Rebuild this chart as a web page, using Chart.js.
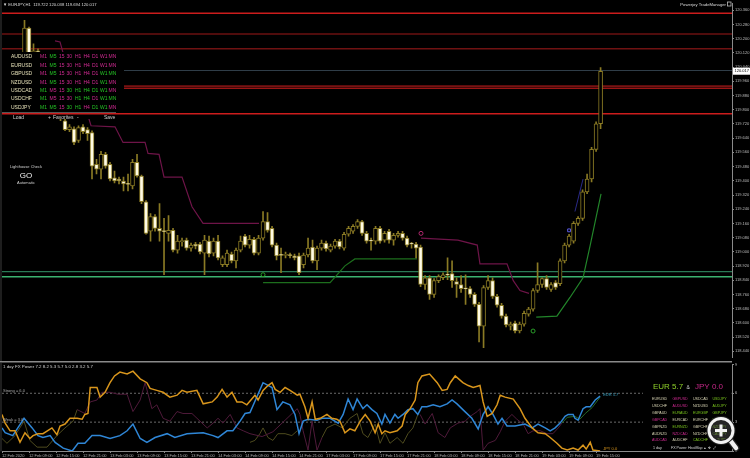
<!DOCTYPE html>
<html><head><meta charset="utf-8">
<script src="https://cdn.jsdelivr.net/npm/chart.js@4.4.1/dist/chart.umd.min.js"></script>
<style>
html,body{margin:0;padding:0;background:#000;width:750px;height:458px;overflow:hidden}
#main{position:absolute;left:0;top:0}
#ind{position:absolute;left:0;top:361px}
</style></head><body>
<canvas id="main" width="750" height="361"></canvas>
<canvas id="ind" width="750" height="97"></canvas>
<script>
// ---------------- DATA ----------------
const symbolName = 'EURJPY,H1';
const candleStart = 5; // bar index of first candle (bars are hourly, index 0 = 12 Feb 03:00)
const opens = [
120.066,120.260,120.032,120.132,119.993,119.854,119.938,119.827,119.754,119.738,
119.688,119.693,119.627,119.704,119.688,119.671,119.493,119.466,119.549,119.493,
119.416,119.410,119.399,119.385,119.371,119.504,119.427,119.282,119.116,119.199,
119.132,119.118,119.104,119.121,119.010,119.057,119.066,119.021,119.043,119.043,
118.993,119.060,118.993,119.060,118.927,118.927,118.988,118.949,119.010,119.088,
119.038,119.071,118.993,119.077,119.171,119.132,119.038,118.984,118.980,118.985,
118.977,118.977,118.927,118.982,119.027,118.949,119.021,119.049,119.010,119.032,
119.060,119.021,119.099,119.116,119.143,119.171,119.104,119.066,119.060,119.132,
119.066,119.116,119.066,119.093,119.104,119.077,119.046,119.043,119.027,118.816,
118.854,118.760,118.838,118.854,118.873,118.877,118.832,118.816,118.795,118.793,
118.760,118.704,118.582,118.799,118.838,118.749,118.699,118.638,118.582,118.599,
118.554,118.593,118.649,118.677,118.782,118.816,118.849,118.788,118.827,118.821,
118.949,119.038,119.060,119.160,119.188,119.338,119.410,119.577,119.722];
const highs = [
120.304,120.266,120.171,120.143,120.010,119.954,119.949,119.854,119.832,119.766,
119.716,119.704,119.710,119.716,119.699,119.682,119.521,119.566,119.560,119.504,
119.454,119.421,119.421,119.438,119.521,119.549,119.432,119.288,119.216,119.210,
119.271,119.188,119.204,119.132,119.093,119.077,119.077,119.049,119.054,119.054,
119.093,119.088,119.077,119.093,118.977,119.010,118.999,119.021,119.088,119.099,
119.093,119.082,119.093,119.227,119.221,119.143,119.049,119.021,118.999,118.993,
118.988,118.993,118.993,119.077,119.066,119.032,119.066,119.060,119.043,119.071,
119.071,119.110,119.143,119.154,119.182,119.177,119.116,119.077,119.143,119.143,
119.116,119.127,119.104,119.116,119.116,119.088,119.054,119.054,119.038,118.866,
118.866,118.849,118.871,118.882,118.966,118.949,118.854,118.866,118.871,118.804,
118.771,118.716,118.810,118.866,118.854,118.760,118.710,118.649,118.604,118.610,
118.604,118.666,118.688,118.793,118.938,118.854,118.866,118.827,118.838,118.960,
119.049,119.099,119.171,119.199,119.349,119.438,119.588,119.732,120.038];
const lows = [
120.043,120.010,120.010,119.966,119.866,119.832,119.799,119.754,119.738,119.682,
119.677,119.604,119.616,119.666,119.627,119.410,119.438,119.410,119.471,119.399,
119.388,119.382,119.343,119.343,119.354,119.421,119.271,119.099,119.060,119.116,
119.060,118.871,119.060,118.999,118.993,119.032,119.010,119.004,119.016,118.988,
118.871,118.971,118.977,118.954,118.916,118.916,118.938,118.910,118.999,119.027,
119.021,118.982,118.982,119.066,119.110,119.027,118.954,118.882,118.966,118.966,
118.954,118.871,118.910,118.971,118.938,118.899,119.010,119.004,118.999,119.021,
119.016,119.010,119.088,119.104,119.132,119.093,119.049,119.010,119.043,119.049,
119.054,119.049,119.038,119.082,119.066,119.027,119.021,118.966,118.804,118.788,
118.732,118.743,118.827,118.843,118.843,118.799,118.743,118.771,118.704,118.743,
118.693,118.493,118.460,118.788,118.738,118.688,118.627,118.577,118.560,118.543,
118.543,118.582,118.638,118.666,118.771,118.799,118.788,118.777,118.788,118.810,
118.938,119.027,119.049,119.149,119.177,119.327,119.393,119.566,119.694];
const closes = [
120.260,120.021,120.132,119.993,119.882,119.938,119.827,119.788,119.810,119.688,
119.704,119.616,119.699,119.677,119.666,119.482,119.466,119.549,119.482,119.410,
119.399,119.399,119.382,119.380,119.504,119.427,119.282,119.104,119.199,119.132,
119.116,119.114,119.121,119.010,119.060,119.063,119.021,119.038,119.032,118.999,
119.066,118.988,119.060,118.966,118.966,118.993,118.949,119.010,119.060,119.038,
119.071,118.993,119.077,119.171,119.121,119.038,118.977,118.980,118.985,118.979,
118.966,118.882,118.982,119.021,118.949,119.021,119.049,119.016,119.032,119.060,
119.027,119.099,119.132,119.143,119.171,119.104,119.060,119.060,119.132,119.060,
119.104,119.066,119.093,119.104,119.077,119.038,119.043,119.021,118.816,118.854,
118.760,118.838,118.860,118.871,118.869,118.838,118.816,118.793,118.791,118.760,
118.704,118.582,118.799,118.838,118.749,118.699,118.638,118.588,118.593,118.554,
118.593,118.654,118.677,118.782,118.816,118.849,118.799,118.816,118.799,118.949,
119.038,119.088,119.160,119.188,119.338,119.410,119.577,119.721,120.017];

const priceTicks = [118.44,118.52,118.60,118.68,118.76,118.84,118.92,119.00,119.08,119.16,119.24,119.32,
  119.40,119.48,119.56,119.64,119.72,119.80,119.88,119.96,120.04,120.12,120.20,120.28,120.36];
const timeLabels = ['12 Feb 2020','12 Feb 09:00','12 Feb 15:00','12 Feb 21:00','13 Feb 03:00','13 Feb 09:00',
  '13 Feb 15:00','13 Feb 21:00','14 Feb 03:00','14 Feb 09:00','14 Feb 15:00','14 Feb 21:00','17 Feb 03:00',
  '17 Feb 09:00','17 Feb 15:00','17 Feb 21:00','18 Feb 03:00','18 Feb 09:00','18 Feb 15:00','18 Feb 21:00',
  '19 Feb 03:00','19 Feb 09:00','19 Feb 15:00'];
const barsPerTimeLabel = 6;

// horizontal price levels
const levelPrices = [120.343, 120.227, 120.143, 120.021, 119.932, 119.921, 119.777, 118.888, 118.860];

// trailing stop lines [barIndex, price]
const resistTrail1 = [[11.78,120.188],[12.89,120.182],[13.56,120.121],[15.11,119.993],[17.33,119.854],[19.11,119.766],
  [19.78,119.710],[25.11,119.704],[26.89,119.616],[31.78,119.616],[32.44,119.554],[34.89,119.549],[36.0,119.421],
  [40.0,119.421],[42.22,119.254],[44.67,119.160],[57.11,119.160]];
const resistTrail2 = [[93.1,119.077],[101.3,119.066],[105.6,119.038],[106.2,118.932],[112.2,118.932],[113.6,118.838],
  [115.1,118.782],[117.1,118.766]];
const supportTrail1 = [[58,118.827],[72.9,118.827],[76.2,118.921],[78.4,118.960],[92.2,118.960]];
const supportTrail2 = [[118.7,118.632],[123.3,118.638],[126.2,118.743],[129.1,118.854],[130.7,119.038],[133.1,119.327]];
const navyTrail = [[127.3,119.227],[129.1,119.410]];
const resistMarks = [[93.1,119.104]];
const supportMarks = [[58,118.871],[118,118.554]];
const navyMarks = [[126,119.121]];

// FX Power indicator [barIndex, strength]
const eurStrength = [[0,2.4],[0.7,1.9],[2.4,1.6],[4.9,3.4],[6.7,2.4],[8,1.6],[9.1,1.4],[10.7,1.6],[11.8,0.9],[13.6,0.3],
  [15.6,0],[16.9,0.8],[18.4,0.8],[20,1.6],[21.8,1.6],[24,1.3],[26.2,1.6],[27.8,2.1],[29.1,2.8],[30.7,1.3],[32.2,0.9],
  [34,1.4],[36.7,1.8],[38.4,1.4],[41.1,1.8],[44.7,1.9],[46.9,1.6],[48,1.4],[50,2.1],[51.3,2.1],[52.9,3.1],[54,3.9],
  [55.1,4.0],[58,7.1],[60,6.6],[61.1,4.3],[62.4,5.1],[64,4.8],[65.1,3.8],[66,1.8],[66.9,3.1],[68,3.3],[70,3.2],
  [71.1,3.4],[72.9,3.4],[74.7,2.9],[75.8,3.8],[76.9,5.4],[78,4.3],[78.9,5.4],[80.2,4.4],[81.1,4.8],[82.2,4.3],
  [83.3,3.9],[84.4,2.8],[85.1,3.8],[86.2,2.9],[87.3,3.8],[88,3.4],[89.1,3.8],[90.2,4.3],[91.3,4.4],[92.4,3.8],
  [93.3,4.6],[94.4,4.6],[95.8,4.8],[97.3,4.6],[98.9,4.9],[100,5.3],[101.1,4.9],[102.4,4.3],[104.4,3.4],[105.8,2.3],
  [106.9,3.8],[108,4.6],[109.1,3.8],[110.2,2.8],[111.1,3.4],[112.2,2.6],[114,2.6],[116.2,2.8],[117.8,2.4],[119.1,2.8],
  [120.7,2.4],[121.8,2.1],[122.9,2.4],[124,2.9],[125.1,3.6],[125.8,3.8],[126.9,3.8],[127.3,3.4],[128,3.2],[129.1,4.4],
  [129.8,4.6],[130.7,4.6],[131.8,5.3],[132.9,5.7]];
const jpyStrength = [[0,3.8],[0.7,2.9],[1.8,2.1],[2.9,2.1],[4,0.9],[5.1,1.9],[6.2,1.3],[6.9,1.6],[8,1.8],[9.1,1.8],
  [11.1,2.4],[12.2,1.7],[12.9,2.6],[14,2.8],[15.1,3.4],[16.7,3.4],[17.8,3.3],[18.4,3.8],[19.1,3.9],[19.6,6.6],
  [21.1,6.6],[21.8,5.6],[22.9,6.1],[24,7.1],[25,7.8],[26.2,8.2],[27.8,8.0],[29.1,8.3],[30.7,7.5],[32.2,7.1],[32.9,6.5],
  [34.4,6.3],[35.8,6.1],[37.3,5.6],[38.9,5.8],[40,6.3],[41.1,6.1],[43.3,6.3],[44.7,4.9],[46.7,5.1],[47.8,5.6],
  [48.9,6.4],[50,5.6],[51.1,6.1],[52.2,5.1],[53.3,5.1],[54.4,4.8],[56.2,5.8],[56.9,5.3],[58,6.3],[59.1,6.8],[60,7.1],
  [60.7,6.4],[61.8,6.1],[62.9,6.6],[64,6.3],[65.6,5.8],[66.2,5.9],[67.3,4.6],[68,3.4],[68.9,5.1],[69.6,3.3],[70.7,3.4],
  [72.2,3.8],[73.3,3.4],[74.4,3.3],[75.1,3.1],[76.2,1.9],[77.3,2.3],[78.4,2.1],[79.6,3.1],[80.7,3.8],[81.8,3.1],
  [82.9,1.9],[83.6,2.8],[84.4,1.8],[85.1,2.1],[86.2,1.9],[87.8,2.1],[88.9,2.6],[89.6,3.8],[90.7,4.4],[91.8,5.3],
  [92.4,7.1],[93.3,7.8],[95,8.0],[96.7,7.1],[97.8,6.3],[98.9,6.4],[99.6,7.1],[100.7,7.8],[102.4,7.1],[103.6,6.8],
  [104.7,6.6],[106.2,6.8],[106.9,5.1],[107.8,3.6],[108.9,3.9],[110,4.8],[110.7,5.8],[111.8,5.6],[113.6,5.4],[115.1,4.4],
  [116.2,3.4],[117.8,2.4],[119.1,1.9],[120.7,1.8],[121.8,1.4],[123.3,0.8],[124.4,0.3],[125.6,0.1],[126.9,0.3],[128,0.1],
  [129.1,0.6],[129.8,0.2],[130.7,0.9],[131.3,0.1],[132.9,0]];
const otherStrengthA = [[16.7,4.3],[18.4,3.9],[19.6,5.1],[21.1,5.3],[22.2,6.1],[24,6.1],[25.8,5.9],[27.8,5.9],[29.1,4.1],
  [30.7,5.3],[31.8,7.1],[33.3,4.4],[34.4,4.8],[35.8,3.4],[37.3,3.1],[38.9,4.1],[40.2,3.9],[42.2,3.9],[44,3.1],[45.6,2.4],
  [46.9,2.9],[48,3.4],[49.1,2.9],[50.7,3.8],[52.2,2.4],[53.6,2.1],[55.1,1.8],[57.8,1.5],[60.2,2.0],[62.9,3.2],[65.6,4.4],
  [66.2,3.8],[66.9,2.1],[68,0.1],[68.9,3.1],[70,0.1],[71.1,1.4]];
const otherStrengthB = [[92.9,3.8],[94,2.8],[95.6,3.9],[96.9,1.9],[98.4,1.4],[99.6,2.4],[101.3,2.9],[102.9,3.1],[104,3.6],
  [105.6,4.1],[106.2,4.4],[106.9,0.1],[108,0.8],[109.6,1.1],[110.7,2.0],[111.8,3.1],[113.3,3.8],[114.4,3.3],[115.8,2.8],
  [116.9,1.8],[118,2.1],[119.6,2.1],[121.1,1.8],[122.4,1.8],[123.6,2.4],[124.4,2.9]];
const oliveSeg1 = [[0,1.3],[1.1,0.8],[2.9,1.6],[4.9,3.1],[6.2,1.1],[7.8,0.4],[10,0.4],[12.2,1.6],[14,2.4],[15.8,3.1],[16.7,4.3]];
const oliveSeg2 = [[55.1,0.9],[56.2,1.1],[57.3,1.8],[58,2.4],[59.1,1.4],[60.2,1.1],[61.3,1.8],[62.9,1.8],[64.4,1.6],[65.6,2.1]];
const oliveSeg3 = [[71.1,1.4],[72.2,2.4],[74,2.8],[75.6,2.4],[77.3,3.4],[78.9,3.9],[80.2,1.8],[81.3,1.4],[82.9,2.8],[84,0.8],
  [85.1,1.9],[86.2,0.8],[87.8,1.4],[89.1,0.8],[90.2,1.8],[91.3,2.4],[92.4,3.8]];
const greenTail = [[124.4,2.9],[125.6,3.5],[127.3,3.6],[128.4,3.3],[129.6,3.9],[131.1,4.5],[132.9,5.6]];
const strongLevel = 6.0, weakLevel = 3.0;
const powerTicks = [0,3,6,9];
const powerValues = [7.2, 8.2, 5.3, 5.7, 5.0, 2.8, 3.2, 5.7];

// panel texts
const symbols = ['AUDUSD','EURUSD','GBPUSD','NZDUSD','USDCAD','USDCHF','USDJPY'];
const timeframes = ['M1','M5','15','30','H1','H4','D1','W1','MN'];
const tfSignals = [
  [0,1,0,0,0,0,0,0,0],[0,1,0,0,0,0,0,0,0],[0,1,0,0,0,0,0,1,1],[0,1,0,0,0,0,0,1,0],
  [1,0,0,1,1,1,1,1,0],[1,0,0,0,1,1,0,1,1],[1,1,0,1,1,0,1,1,0]];
const heatPairs = ['EURUSD','GBPUSD','USDCAD','USDJPY','USDCHF','AUDUSD','NZDUSD','AUDJPY','GBPAUD','EURAUD','EURGBP','GBPJPY',
  'GBPCAD','EURCAD','EURCHF','EURJPY','GBPNZD','EURNZD','GBPCHF','NZDJPY','AUDNZD','NZDCAD','NZDCHF','CADJPY',
  'AUDCAD','AUDCHF','CADCHF','CHFJPY'];
const heatState = [0,2,0,1, 0,2,0,1, 0,1,1,1, 2,0,0,1, 0,1,0,1, 0,2,0,1, 2,0,1,1];

// ---------------- CHARTS ----------------
Chart.defaults.font.family = '"Liberation Sans","DejaVu Sans",sans-serif';
const X_MIN = 0, X_MAX = 162.2;
const OLIVE = '#8a7a24';
const FONT = '"Liberation Sans","DejaVu Sans",sans-serif';
const MAGENTA = '#d22a93', GREEN = '#25c425', HEAT_GREEN = '#7cc81e', NEUTRAL = '#d8d4b4';
const levelStyles = [['#cc1c1c',1.5],['#6a1010',1.5],['#701212',1.5],['#2f3d48',1],['#7a1212',2],
  ['#cc1c1c',1.2],['#cc1c1c',1.5],['#2a7a55',1.2],['#3cb371',1.5]];

const pts = arr => arr.map(([x, y]) => ({x, y}));
const idx = opens.map((_, k) => candleStart + k);
const wickData = idx.map((x, k) => ({x, y: [lows[k], highs[k]]}));
const bodyData = idx.map((x, k) => ({x, y: [opens[k], closes[k]]}));
const bodyFill = idx.map((x, k) => closes[k] >= opens[k] ? '#000000' : '#fffbe4');
function hline(v, color, width, order, dash) {
  return {type: 'line', data: [{x: X_MIN, y: v}, {x: X_MAX, y: v}], borderColor: color, borderWidth: width,
    borderDash: dash || [], pointRadius: 0, order: order};
}
function lineDs(arr, color, width, order) {
  return {type: 'line', data: pts(arr), borderColor: color, borderWidth: width, pointRadius: 0, tension: 0, order: order};
}
function markDs(arr, color, style) {
  return {type: 'line', data: pts(arr), showLine: false, pointRadius: 2, pointBorderWidth: 1, pointStyle: style || 'circle',
    pointBorderColor: color, pointBackgroundColor: 'rgba(0,0,0,0)', order: 1};
}

const mainOverlay = {
  id: 'mainOverlay',
  afterDatasetsDraw(chart) {
    const {ctx} = chart; const y = chart.scales.y; const x = chart.scales.x;
    ctx.save();
    // trade panel background
    ctx.fillStyle = '#000'; ctx.fillRect(0, 52, 124, 67);
    // the level line that crosses the panel
    const ly = y.getPixelForValue(levelPrices[6]);
    ctx.strokeStyle = levelStyles[6][0]; ctx.lineWidth = 1.5;
    ctx.beginPath(); ctx.moveTo(x.getPixelForValue(X_MIN), ly); ctx.lineTo(124, ly); ctx.stroke();
    ctx.textBaseline = 'middle';
    ctx.font = '5px ' + FONT;
    symbols.forEach((s, r) => {
      const ry = 57 + r * 8.4;
      ctx.fillStyle = '#e6e0b8'; ctx.textAlign = 'left'; ctx.fillText(s, 11, ry);
      const cx = [40, 49.5, 59, 66.5, 75, 83.5, 92, 100, 108.5];
      timeframes.forEach((t, c) => { ctx.fillStyle = tfSignals[r][c] ? GREEN : MAGENTA; ctx.fillText(t, cx[c], ry); });
    });
    ctx.strokeStyle = '#555'; ctx.lineWidth = 1;
    ctx.beginPath(); ctx.moveTo(2, 112.5); ctx.lineTo(116, 112.5); ctx.stroke();
    ctx.fillStyle = '#d0d0d0';
    ctx.fillText('Load', 13, 117.5); ctx.fillText('+', 48, 117.5); ctx.fillText('Favorites', 53, 117.5);
    ctx.fillText('-', 77, 117.5); ctx.fillText('Save', 104, 117.5);
    // Lighthouse
    ctx.textAlign = 'center'; ctx.fillStyle = '#cfcfcf';
    ctx.font = '4px ' + FONT; ctx.fillText('Lighthouse Check', 26, 167);
    ctx.font = '8px ' + FONT; ctx.fillStyle = '#f0f0f0'; ctx.fillText('GO', 26, 175.5);
    ctx.font = '4px ' + FONT; ctx.fillStyle = '#cfcfcf'; ctx.fillText('Automatic', 26, 182.5);
    // header
    ctx.textAlign = 'left'; ctx.font = '4.2px ' + FONT; ctx.fillStyle = '#dcdcdc';
    const last = opens.length - 1;
    ctx.fillText('\u25BC ' + symbolName + '  ' + opens[last].toFixed(3) + ' ' + highs[last].toFixed(3) + ' ' +
      lows[last].toFixed(3) + ' ' + closes[last].toFixed(3), 3, 4.5);
    ctx.textAlign = 'right'; ctx.fillText('Powerjoy TradeManager', 726, 4.5);
    ctx.strokeStyle = '#bbb'; ctx.lineWidth = 0.8; ctx.strokeRect(727.5, 2, 3.5, 4);
    // left frame
    ctx.fillStyle = '#3c3c3c'; ctx.fillRect(0.5, 0, 1, 361);
    ctx.restore();
  },
  afterDraw(chart) {
    const {ctx} = chart; const y = chart.scales.y;
    const last = closes.length - 1;
    const py = y.getPixelForValue(closes[last]);
    ctx.save();
    ctx.fillStyle = '#ffffff'; ctx.fillRect(733, py - 3.5, 17, 7);
    ctx.fillStyle = '#000'; ctx.font = '4px ' + FONT; ctx.textBaseline = 'middle'; ctx.textAlign = 'left';
    ctx.fillText(closes[last].toFixed(3), 734.5, py);
    ctx.restore();
  }
};

new Chart(document.getElementById('main'), {
  type: 'bar',
  data: {datasets: [
    ...levelPrices.map((v, k) => hline(v, levelStyles[k][0], levelStyles[k][1], 6)),
    lineDs(resistTrail1, '#6e1448', 1.2, 5),
    lineDs(resistTrail2, '#6e1448', 1.2, 5),
    lineDs(supportTrail1, '#1d6e1d', 1.2, 5),
    lineDs(supportTrail2, '#22852a', 1.2, 5),
    lineDs(navyTrail, '#2a2a88', 1, 5),
    {type: 'bar', data: wickData, backgroundColor: OLIVE, barThickness: 1, grouped: false, order: 3},
    {type: 'bar', data: bodyData, backgroundColor: bodyFill, borderColor: OLIVE, borderWidth: 1, borderSkipped: false,
      barThickness: 4, grouped: false, minBarLength: 1, order: 2},
    markDs(resistMarks, '#b0286e'), markDs(supportMarks, '#2aa02a'), markDs(navyMarks, '#5a5ae0', 'rect')
  ]},
  options: {
    responsive: false, animation: false, devicePixelRatio: 1, events: [],
    layout: {padding: {top: 2, left: 2, right: 0, bottom: 0}, autoPadding: false},
    plugins: {legend: {display: false}, tooltip: {enabled: false}},
    scales: {
      x: {type: 'linear', min: X_MIN, max: X_MAX, display: false, offset: false},
      y: {position: 'right', min: 118.4044, max: 120.3989,
        afterBuildTicks: s => { s.ticks = priceTicks.map(v => ({value: v})); },
        afterFit: s => { s.width = 18; },
        ticks: {autoSkip: false, color: '#bdbdbd', font: {size: 4}, padding: 1, callback: v => Number(v).toFixed(3)},
        grid: {drawOnChartArea: false, color: '#8a8a8a', tickLength: 2},
        border: {color: '#8a8a8a'}}
    }
  },
  plugins: [mainOverlay]
});

const indOverlay = {
  id: 'indOverlay',
  afterDatasetsDraw(chart) {
    const {ctx} = chart;
    ctx.save();
    ctx.fillStyle = '#000'; ctx.fillRect(643, 3, 88.5, 87);
    ctx.textBaseline = 'middle'; ctx.textAlign = 'left';
    ctx.font = '8px ' + FONT;
    ctx.fillStyle = '#8fd12a'; ctx.fillText('EUR ' + eurStrength[eurStrength.length - 1][1].toFixed(1), 653, 26);
    ctx.font = '5px ' + FONT; ctx.fillStyle = '#cccccc'; ctx.fillText('&', 686.5, 27);
    ctx.font = '8px ' + FONT; ctx.fillStyle = '#c8288a';
    ctx.fillText('JPY ' + jpyStrength[jpyStrength.length - 1][1].toFixed(1), 695, 26);
    ctx.font = '3.6px ' + FONT;
    const cols = [652, 672.5, 693, 712.5];
    heatPairs.forEach((p, k) => {
      const r = Math.floor(k / 4), c = k % 4;
      ctx.fillStyle = heatState[k] === 1 ? HEAT_GREEN : (heatState[k] === 2 ? MAGENTA : NEUTRAL);
      ctx.fillText(p, cols[c], 38 + r * 6.9);
    });
    ctx.fillStyle = '#d8d8d8';
    ctx.fillText('1 day', 653, 86.5); ctx.fillText('FX Power', 671, 86.5); ctx.fillText('HeatMap', 688, 86.5);
    ctx.fillText('\u25B4  \u2756  \u2922', 704, 86.5);
    ctx.restore();
  },
  afterDraw(chart) {
    const {ctx} = chart; const y = chart.scales.y; const x = chart.scales.x;
    ctx.save();
    ctx.fillStyle = '#8a8a8a'; ctx.fillRect(0, 0, 732, 1.5);
    ctx.fillStyle = '#3c3c3c'; ctx.fillRect(0.5, 1.5, 1, 89);
    ctx.textBaseline = 'middle'; ctx.textAlign = 'left';
    ctx.font = '4.4px ' + FONT; ctx.fillStyle = '#d0d0d0';
    ctx.fillText('1 day FX Power ' + powerValues.map(v => v.toFixed(1)).join(' '), 3, 6);
    ctx.font = '4px ' + FONT; ctx.fillStyle = '#a8a8a8';
    ctx.fillText('Strong = ' + strongLevel.toFixed(1), 3, y.getPixelForValue(strongLevel) - 2.5);
    ctx.fillText('Weak = ' + weakLevel.toFixed(1), 3, y.getPixelForValue(weakLevel) - 2.5);
    const e = eurStrength[eurStrength.length - 1], j = jpyStrength[jpyStrength.length - 1];
    ctx.fillStyle = '#39a6c8';
    ctx.fillText('EUR ' + e[1].toFixed(1), x.getPixelForValue(e[0]) + 3, y.getPixelForValue(e[1]) - 1);
    ctx.fillStyle = '#d9961c';
    ctx.fillText('JPY ' + j[1].toFixed(1), x.getPixelForValue(j[0]) + 3, y.getPixelForValue(j[1]) - 2);
    // viewer magnifier overlay
    ctx.fillStyle = 'rgba(70,70,70,0.55)';
    ctx.beginPath(); ctx.arc(721, 69.5, 12, 0, Math.PI * 2); ctx.fill();
    ctx.lineCap = 'round';
    ctx.strokeStyle = '#222'; ctx.lineWidth = 7;
    ctx.beginPath(); ctx.moveTo(730, 79); ctx.lineTo(736, 87); ctx.stroke();
    ctx.strokeStyle = '#f2f2f2'; ctx.lineWidth = 4.5;
    ctx.beginPath(); ctx.moveTo(730, 79); ctx.lineTo(736, 87); ctx.stroke();
    ctx.strokeStyle = '#222'; ctx.lineWidth = 5;
    ctx.beginPath(); ctx.arc(721, 69.5, 12, 0, Math.PI * 2); ctx.stroke();
    ctx.strokeStyle = '#f2f2f2'; ctx.lineWidth = 3;
    ctx.beginPath(); ctx.arc(721, 69.5, 12, 0, Math.PI * 2); ctx.stroke();
    ctx.lineWidth = 3; ctx.lineCap = 'butt';
    ctx.beginPath(); ctx.moveTo(715, 69.5); ctx.lineTo(727, 69.5); ctx.moveTo(721, 63.5); ctx.lineTo(721, 75.5); ctx.stroke();
    ctx.restore();
  }
};

new Chart(document.getElementById('ind'), {
  type: 'line',
  data: {datasets: [
    hline(strongLevel, '#6a6a6a', 1, 6, [2, 2]),
    hline(weakLevel, '#6a6a6a', 1, 6, [2, 2]),
    lineDs(oliveSeg1, '#4e4b1e', 1, 5), lineDs(oliveSeg2, '#4e4b1e', 1, 5), lineDs(oliveSeg3, '#4e4b1e', 1, 5),
    lineDs(otherStrengthA, '#4f1a3a', 1, 4), lineDs(otherStrengthB, '#4f1a3a', 1, 4),
    lineDs(greenTail, '#256a28', 1, 4),
    lineDs(eurStrength, '#2f86d6', 1.5, 2),
    lineDs(jpyStrength, '#d9961c', 1.5, 1)
  ]},
  options: {
    responsive: false, animation: false, devicePixelRatio: 1, events: [],
    layout: {padding: {top: 0, left: 2, right: 0, bottom: 0}, autoPadding: false},
    plugins: {legend: {display: false}, tooltip: {enabled: false}},
    scales: {
      x: {type: 'linear', min: X_MIN, max: X_MAX, offset: false,
        afterBuildTicks: s => { s.ticks = timeLabels.map((_, k) => ({value: k * barsPerTimeLabel})); },
        afterFit: s => { s.height = 7; },
        ticks: {autoSkip: false, maxRotation: 0, minRotation: 0, align: 'start', padding: 0, color: '#b0b0b0',
          font: {size: 4}, callback: (v, k) => timeLabels[k]},
        grid: {drawOnChartArea: false, color: '#8a8a8a', tickLength: 2},
        border: {color: '#8a8a8a'}},
      y: {position: 'right', min: 0, max: 9,
        afterBuildTicks: s => { s.ticks = powerTicks.map(v => ({value: v})); },
        afterFit: s => { s.width = 18; },
        ticks: {autoSkip: false, color: '#bdbdbd', font: {size: 4}, padding: 1, callback: v => String(v)},
        grid: {drawOnChartArea: false, color: '#8a8a8a', tickLength: 2},
        border: {color: '#8a8a8a'}}
    }
  },
  plugins: [indOverlay]
});
</script></body></html>
